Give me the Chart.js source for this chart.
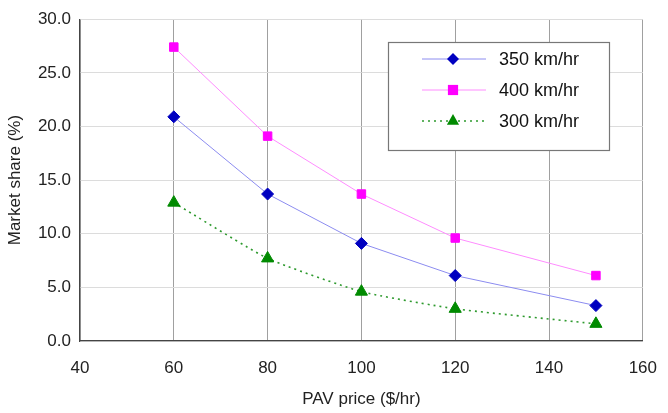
<!DOCTYPE html>
<html>
<head>
<meta charset="utf-8">
<script src="https://cdn.jsdelivr.net/npm/chart.js@4/dist/chart.umd.min.js"></script>
<style>
  html, body { margin: 0; padding: 0; background: #fff; }
  #wrap { width: 668px; height: 413px; position: relative; }
</style>
</head>
<body>
<div id="wrap"><canvas id="c" width="668" height="413"></canvas></div>
<script>
const prices = [60, 80, 100, 120, 150];
const share350 = [20.9, 13.7, 9.1, 6.1, 3.3];
const share400 = [27.4, 19.1, 13.7, 9.6, 6.1];
const share300 = [12.9, 7.7, 4.6, 3.0, 1.6];
const seriesNames = ['350 km/hr', '400 km/hr', '300 km/hr'];
const xTitle = 'PAV price ($/hr)';
const yTitle = 'Market share (%)';

const FONT = '"Liberation Sans", Arial, Helvetica, sans-serif';

function pts(vals) { return prices.map((p, i) => ({ x: p, y: vals[i] })); }

function drawMarker(ctx, style, r, x, y) {
  if (style === 'rectRot') {
    ctx.moveTo(x, y - r); ctx.lineTo(x + r, y); ctx.lineTo(x, y + r); ctx.lineTo(x - r, y); ctx.closePath();
  } else if (style === 'rect') {
    const h = r * 0.85;
    ctx.rect(x - h, y - h, 2 * h, 2 * h);
  } else if (style === 'triangle') {
    ctx.moveTo(x, y - r); ctx.lineTo(x + r * 0.87, y + r * 0.55); ctx.lineTo(x - r * 0.87, y + r * 0.55); ctx.closePath();
  }
}

const legendPlugin = {
  id: 'boxLegend',
  afterDraw(chart) {
    const ctx = chart.ctx;
    const bx = 388, by = 42, bw = 221, bh = 108;
    ctx.save();
    ctx.fillStyle = '#fff';
    ctx.fillRect(bx, by, bw, bh);
    ctx.strokeStyle = '#777';
    ctx.lineWidth = 1.2;
    ctx.strokeRect(bx + 0.5, by + 0.5, bw, bh);
    const rows = [59, 90, 121];
    chart.data.datasets.forEach((ds, i) => {
      const y = rows[i];
      ctx.strokeStyle = ds.borderColor;
      ctx.lineWidth = ds.borderWidth;
      ctx.setLineDash(ds.borderDash || []);
      ctx.beginPath();
      ctx.moveTo(422, y);
      ctx.lineTo(486, y);
      ctx.stroke();
      ctx.setLineDash([]);
      ctx.fillStyle = ds.pointBackgroundColor;
      ctx.beginPath();
      drawMarker(ctx, ds.pointStyle, ds.pointRadius, 453, y);
      ctx.fill();
      ctx.fillStyle = '#111';
      ctx.font = '18px ' + FONT;
      ctx.textBaseline = 'middle';
      ctx.textAlign = 'left';
      ctx.fillText(ds.label, 499, y + 1);
    });
    ctx.restore();
  }
};

new Chart(document.getElementById('c'), {
  type: 'line',
  data: {
    datasets: [
      {
        label: seriesNames[0], data: pts(share350),
        borderColor: '#8c8cf0', borderWidth: 1,
        pointStyle: 'rectRot', pointRadius: 6,
        pointBackgroundColor: '#0000c0', pointBorderColor: '#0000c0', pointBorderWidth: 1,
        tension: 0
      },
      {
        label: seriesNames[1], data: pts(share400),
        borderColor: '#ff8cff', borderWidth: 1,
        pointStyle: 'rect', pointRadius: 6,
        pointBackgroundColor: '#ff00ff', pointBorderColor: '#ff00ff', pointBorderWidth: 1,
        tension: 0
      },
      {
        label: seriesNames[2], data: pts(share300),
        borderColor: '#2e9a2e', borderWidth: 1.6, borderDash: [2, 4],
        pointStyle: 'triangle', pointRadius: 7,
        pointBackgroundColor: '#008a00', pointBorderColor: '#008a00', pointBorderWidth: 1,
        tension: 0.15
      }
    ]
  },
  options: {
    responsive: false,
    animation: false,
    layout: { padding: { left: 0, right: 25, top: 12, bottom: 0 } },
    plugins: { legend: { display: false }, tooltip: { enabled: false } },
    scales: {
      x: {
        type: 'linear', min: 40, max: 160,
        ticks: { stepSize: 20, color: '#222', font: { family: FONT, size: 17 }, padding: 11 },
        grid: { color: '#a0a0a0', lineWidth: 1, drawTicks: true, tickLength: 6, tickColor: '#fff' },
        border: { color: '#444', width: 1.2 },
        title: { display: true, text: xTitle, color: '#222', font: { family: FONT, size: 17 }, padding: { top: 4, bottom: 3 } },
        afterFit(s) { s.height = 72; }
      },
      y: {
        min: 0, max: 30,
        ticks: { stepSize: 5, color: '#222', font: { family: FONT, size: 17 }, padding: 9,
                 callback: v => Number(v).toFixed(1) },
        grid: { color: '#dcdcdc', lineWidth: 1, drawTicks: false },
        border: { color: '#444', width: 1.2 },
        title: { display: true, text: yTitle, color: '#222', font: { family: FONT, size: 17 }, padding: { top: 5, bottom: 2 } },
        afterFit(s) { s.width = 80; }
      }
    }
  },
  plugins: [legendPlugin]
});
</script>
</body>
</html>
